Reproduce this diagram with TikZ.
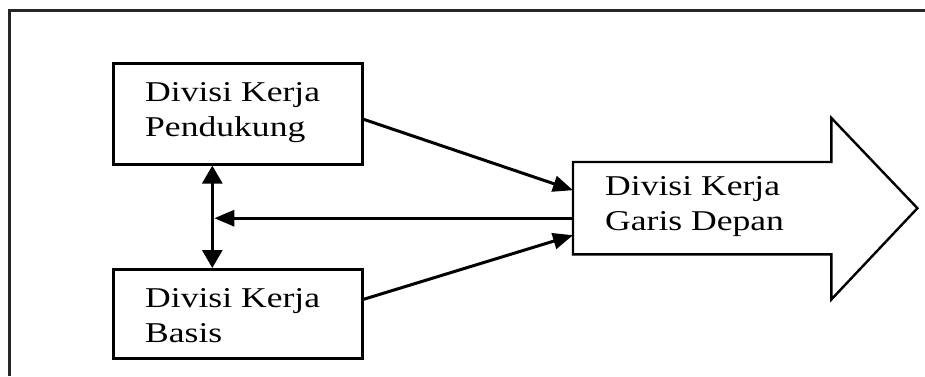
\documentclass[tikz,border=0pt]{standalone}
\usepackage{fontspec}
\setmainfont{Liberation Serif}[FakeStretch=1.24]
\usetikzlibrary{arrows.meta}
\begin{document}
\begin{tikzpicture}[x=1pt,y=-1pt,
  box/.style={draw, line width=2.6pt, minimum width=249pt, minimum height=101pt, anchor=north west, inner sep=0pt},
  lbl/.style={anchor=base west, align=left, inner sep=0pt, font=\fontsize{28.7}{35}\selectfont},
  conn/.style={line width=3pt, -{Triangle[length=20pt,width=16pt]}},
  dconn/.style={line width=3.2pt, {Triangle[length=18pt,width=20pt]}-{Triangle[length=18pt,width=20pt]}},
  shapeln/.style={line width=2.4pt, line join=miter},
]
\useasboundingbox (0,0) rectangle (925,376);
\draw[line width=3pt, black!85] (9,376) -- (9,10) -- (925,10);
% boxes
\node[box] (sup) at (112,62) {};
\node[box, minimum height=89pt] (bas) at (112,268) {};
\node[minimum width=258pt, minimum height=92pt, anchor=north west, inner sep=0pt] (front) at (573,162) {};
\draw[shapeln] (front.north west) -- (front.north east) -- ++(0,-44) -- ([xshift=86pt]front.east)
  -- ([yshift=-45pt]front.south east) -- (front.south east) -- (front.south west) -- cycle;
% labels
\node[lbl] (supt) at (145,136) {Divisi Kerja\\Pendukung};
\node[lbl] (bast) at (145,342) {Divisi Kerja\\Basis};
\node[lbl] (frontt) at (605,230) {Divisi Kerja\\Garis Depan};
% connectors
\coordinate (vtop) at ([xshift=-25.5pt]sup.south);
\coordinate (vbot) at ([xshift=-25.5pt]bas.north);
\coordinate (fout) at ([yshift=-10pt]front.west);
\coordinate (vhit) at ([xshift=2pt]vtop |- fout);
\draw[dconn] (vtop) -- (vbot);
\draw[conn] ([yshift=-5.5pt]sup.east) -- ([yshift=18pt]front.west);
\draw[conn] ([yshift=14.5pt]bas.east) -- ([yshift=-27pt]front.west);
\draw[conn] (fout) -- (vhit);
\end{tikzpicture}
\end{document}
